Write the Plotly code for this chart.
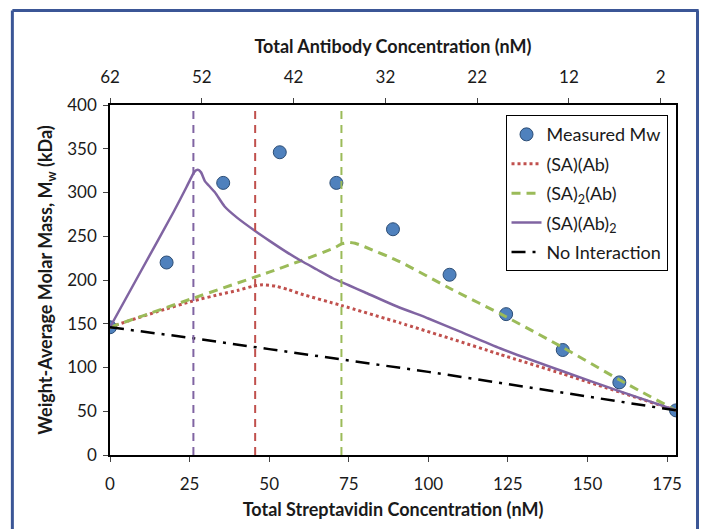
import plotly.graph_objects as go

# ---- data ----
sa_meas = [0, 17.78, 35.56, 53.33, 71.11, 88.89, 106.67, 124.44, 142.22, 160.0, 177.8]
mw_meas = [146, 220, 311, 346, 311, 258, 206, 161, 120, 83, 51]

sa_ab_x = [0, 6.4, 15, 26, 35, 40, 45, 48, 52, 56, 60, 72.6, 91.1, 107, 122.5, 142, 160, 177.8]
sa_ab_y = [146, 154, 164, 176, 184, 188, 193, 194.5, 193, 189, 184, 171, 151, 133, 115, 93, 72, 51]

sa2_ab_x = [0, 26, 50, 60, 70, 73, 75, 77, 80, 91, 107, 124.4, 142.2, 160, 177.8]
sa2_ab_y = [146, 179, 209, 222, 236, 241.5, 243, 242, 238, 221, 190, 158, 123, 86, 51]

sa_ab2_x = [0, 10, 20, 24, 25.5, 26.6, 27.6, 28.6, 29.8, 31, 33, 36, 40, 45.6, 50, 55, 60, 65, 70,
            75, 80, 90, 100, 110, 122.5, 142, 160, 177.8]
sa_ab2_y = [146, 212, 278, 306, 317, 324, 326, 323, 313, 308, 300, 284, 271, 256, 245, 233, 222, 212, 202,
            194, 186, 170, 156, 141, 122, 96, 73, 51]

noint_x = [0, 25, 50, 75, 100, 125, 150, 177.8]
noint_y = [146, 134, 121, 108, 95, 81, 67, 51]

vline_sa_ab2 = 26.2
vline_sa_ab = 45.6
vline_sa2_ab = 72.7

x_ticks = [0, 25, 50, 75, 100, 125, 150, 175]
y_ticks = [0, 50, 100, 150, 200, 250, 300, 350, 400]
ab_ticks = [62, 52, 42, 32, 22, 12, 2]

PURPLE = "#8064A2"
RED = "#C0504D"
GREEN = "#9BBB59"
BLUE = "#4F81BD"
FONT = "Lato"
TXT = "#1a1a1a"

fig = go.Figure()

fig.add_trace(go.Scatter(x=sa_meas, y=mw_meas, mode="markers", name="Measured Mw", legendgroup="a",
                         marker=dict(size=13, color=BLUE, line=dict(color="#2C4D75", width=1))))
fig.add_trace(go.Scatter(x=sa_ab_x, y=sa_ab_y, mode="lines", name="(SA)(Ab)", legendgroup="b",
                         line=dict(color=RED, width=3, dash="dot", shape="spline", smoothing=0.5)))
fig.add_trace(go.Scatter(x=sa2_ab_x, y=sa2_ab_y, mode="lines", name="(SA)<sub>2</sub>(Ab)", legendgroup="c",
                         line=dict(color=GREEN, width=3, dash="9px,6px", shape="spline", smoothing=0.5)))
fig.add_trace(go.Scatter(x=sa_ab2_x, y=sa_ab2_y, mode="lines", name="(SA)(Ab)<sub>2</sub>", legendgroup="d",
                         line=dict(color=PURPLE, width=2.5, shape="spline", smoothing=0.5)))
fig.add_trace(go.Scatter(x=noint_x, y=noint_y, mode="lines", name="No Interaction", legendgroup="e",
                         line=dict(color="black", width=2.5, dash="14px,7px,3px,7px")))

for xv, col in [(vline_sa_ab2, PURPLE), (vline_sa_ab, RED), (vline_sa2_ab, GREEN)]:
    fig.add_trace(go.Scatter(x=[xv, xv], y=[y_ticks[0], y_ticks[-1]], mode="lines", showlegend=False,
                             hoverinfo="skip", line=dict(color=col, width=2, dash="8px,6px")))

# invisible trace to anchor the top axis
fig.add_trace(go.Scatter(x=ab_ticks, y=[None] * len(ab_ticks), xaxis="x2", mode="markers",
                         showlegend=False, hoverinfo="skip"))

fig.update_layout(
    width=701, height=529,
    margin=dict(l=110, r=25, t=105, b=74),
    paper_bgcolor="white", plot_bgcolor="white",
    font=dict(family=FONT, size=17, color=TXT),
    showlegend=True,
    legend=dict(x=0.985, y=0.971, xanchor="right", yanchor="top",
                bordercolor="black", borderwidth=1, bgcolor="white",
                font=dict(family=FONT, size=18, color=TXT),
                traceorder="grouped", tracegroupgap=3, itemwidth=30),
    xaxis=dict(range=[0, 177.8], tickvals=x_ticks, ticks="outside", ticklen=5,
               showline=True, linecolor="black", linewidth=1.5, showgrid=False, zeroline=False,
               tickfont=dict(size=17, color=TXT), ticklabelstandoff=8,
               title=dict(text="<b>Total Streptavidin Concentration (nM)</b>",
                          font=dict(size=18, color=TXT), standoff=10)),
    xaxis2=dict(range=[62, 0.34], tickvals=ab_ticks, overlaying="x", side="top", anchor="y",
                ticks="outside", ticklen=5, showline=True, linecolor="black", linewidth=1.5,
                showgrid=False, zeroline=False, tickfont=dict(size=17, color=TXT), ticklabelstandoff=8,
                title=dict(text="<b>Total Antibody Concentration (nM)</b>",
                           font=dict(size=18, color=TXT), standoff=8)),
    yaxis=dict(range=[0, 400], tickvals=y_ticks, ticks="outside", ticklen=5,
               showline=True, linecolor="black", linewidth=1.5, mirror=True,
               showgrid=False, zeroline=False, tickfont=dict(size=17, color=TXT), ticklabelstandoff=3,
               title=dict(text="<b>Weight-Average Molar Mass, M<sub>w</sub> (kDa)</b>",
                          font=dict(size=18, color=TXT), standoff=10)),
    shapes=[
        dict(type="line", xref="paper", yref="paper", x0=-0.1725, x1=-0.1725, y0=1.27, y1=-0.3,
             line=dict(color="#3B5696", width=3)),
        dict(type="line", xref="paper", yref="paper", x0=-0.1725, x1=1.04, y0=1.27, y1=1.27,
             line=dict(color="#3B5696", width=3)),
        dict(type="line", xref="paper", yref="paper", x0=1.038, x1=1.038, y0=1.27, y1=-0.3,
             line=dict(color="#3B5696", width=3)),
    ],
)

fig.write_html("out.html")
